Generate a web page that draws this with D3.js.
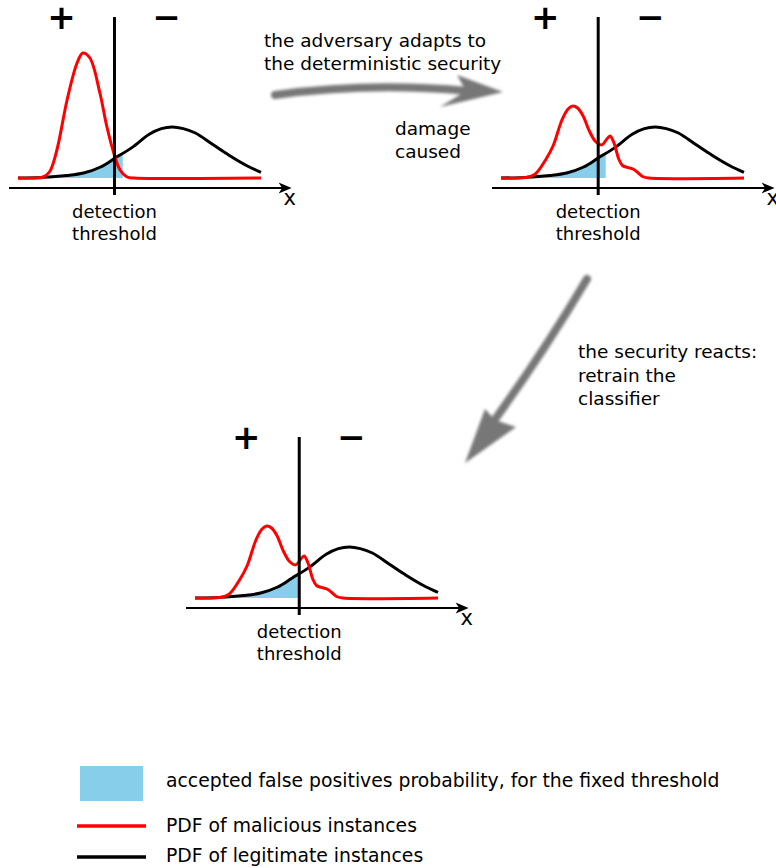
<!DOCTYPE html>
<html>
<head>
<meta charset="utf-8">
<script src="https://cdn.jsdelivr.net/npm/d3@7"></script>
<style>
  html, body { margin: 0; padding: 0; background: #fff; }
  text { font-family: "DejaVu Sans", sans-serif; fill: #000; }
</style>
</head>
<body>
<svg id="chart" width="776" height="868"></svg>
<script>
// data (x in feature units 0..100, y = density, red peak = 1)
var legitX = [0, 10, 20, 27, 34, 40, 47, 54, 59, 63.5, 68, 73, 80, 87, 94, 100];
var legitY = [0, 0.005, 0.02, 0.04, 0.088, 0.16, 0.245, 0.35, 0.395, 0.408, 0.395, 0.36, 0.27, 0.18, 0.1, 0.045];

var maliciousX = [0, 10.3, 13, 16, 20.2, 24.3, 26.7, 29.6, 33.7, 36.6, 39.9, 42, 44.9, 48, 100];
var maliciousY = [0, 0.008, 0.05, 0.224, 0.624, 0.92, 1, 0.96, 0.68, 0.408, 0.168, 0.064, 0.008, 0, 0];

var adaptedX = [0, 10, 14, 18.5, 21.5, 25, 27.5, 29.6, 31.5, 33.7, 36.5, 39, 41.5, 43.5, 44.9, 46.5, 48.5, 50, 52, 54.5, 56.5, 58.5, 61, 100];
var adaptedY = [0, 0.004, 0.03, 0.15, 0.26, 0.46, 0.55, 0.576, 0.56, 0.5, 0.37, 0.29, 0.265, 0.31, 0.336, 0.28, 0.15, 0.1, 0.085, 0.07, 0.04, 0.01, 0, 0];

var thresholds = [39.7, 40.0, 42.9];
var fpEdges = [43.1, 43.1, 42.4];

var annotations = [
  ["the adversary adapts to", "the deterministic security"],
  ["damage", "caused"],
  ["the security reacts:", "retrain the", "classifier"]
];
var legendLabels = [
  "accepted false positives probability, for the fixed threshold",
  "PDF of malicious instances",
  "PDF of legitimate instances"
];

var legit = legitX.map(function(x, i) { return {x: x, y: legitY[i]}; });
var malicious = maliciousX.map(function(x, i) { return {x: x, y: maliciousY[i]}; });
var adapted = adaptedX.map(function(x, i) { return {x: x, y: adaptedY[i]}; });

// panel layout
var panels = [
  {x0: 18,  base: 178, red: malicious},
  {x0: 501, base: 178, red: adapted},
  {x0: 195, base: 598, red: adapted}
];

var red = "#ff0000", blue = "#87ceeb";
var svg = d3.select("#chart");

var defs = svg.append("defs");
defs.append("filter").attr("id", "blur")
  .attr("x", "-20%").attr("y", "-20%").attr("width", "140%").attr("height", "140%")
  .append("feGaussianBlur").attr("stdDeviation", 1.6);

panels.forEach(function(p, i) {
  var x = d3.scaleLinear().domain([0, 100]).range([p.x0, p.x0 + 243]);
  var y = d3.scaleLinear().domain([0, 1]).range([p.base, p.base - 125]);
  var g = svg.append("g").attr("class", "panel");

  var line = d3.line().x(function(d) { return x(d.x); }).y(function(d) { return y(d.y); })
    .curve(d3.curveCatmullRom.alpha(0.5));
  var area = d3.area().x(function(d) { return x(d.x); }).y0(y(0)).y1(function(d) { return y(d.y); })
    .curve(d3.curveCatmullRom.alpha(0.5));

  // false positive area under the legitimate curve, left of the edge
  defs.append("clipPath").attr("id", "fp" + i)
    .append("rect")
    .attr("x", x(0)).attr("y", y(1.3))
    .attr("width", x(fpEdges[i]) - x(0)).attr("height", y(0) - y(1.3));
  g.append("path").datum(legit).attr("d", area)
    .attr("fill", blue).attr("clip-path", "url(#fp" + i + ")");

  // x axis with arrow head
  var ay = p.base + 10;
  g.append("line").attr("x1", x(-3.7)).attr("x2", x(111)).attr("y1", ay).attr("y2", ay)
    .attr("stroke", "#000").attr("stroke-width", 2);
  var tip = x(112.6);
  g.append("path")
    .attr("d", "M" + tip + "," + ay + "L" + (tip - 13) + "," + (ay - 5.5) + "L" + (tip - 9.5) + "," + ay + "L" + (tip - 13) + "," + (ay + 5.5) + "Z")
    .attr("fill", "#000");
  g.append("text").attr("x", tip - 2).attr("y", p.base + 27)
    .attr("text-anchor", "middle").style("font-size", "21px").text("x");

  // legitimate and malicious PDFs
  g.append("path").datum(legit).attr("d", line)
    .attr("fill", "none").attr("stroke", "#000").attr("stroke-width", 3);
  g.append("path").datum(p.red).attr("d", line)
    .attr("fill", "none").attr("stroke", red).attr("stroke-width", 3);

  // detection threshold
  var tx = x(thresholds[i]);
  g.append("line").attr("x1", tx).attr("x2", tx).attr("y1", p.base - 161).attr("y2", p.base + 17)
    .attr("stroke", "#000").attr("stroke-width", 3);
  g.append("text").attr("x", tx).attr("y", p.base + 40).attr("text-anchor", "middle")
    .style("font-size", "18px").text("detection");
  g.append("text").attr("x", tx).attr("y", p.base + 62).attr("text-anchor", "middle")
    .style("font-size", "18px").text("threshold");

  // + and − signs above the curves
  [["+", -53], ["\u2212", 52]].forEach(function(s) {
    g.append("text").attr("x", tx + s[1]).attr("y", p.base - 161 + 12)
      .attr("text-anchor", "middle").style("font-size", "34px").style("font-weight", "bold").text(s[0]);
  });
});

// blurred grey arrows
var arrows = svg.append("g").attr("filter", "url(#blur)");
arrows.append("path").attr("d", "M275,95 Q370,82 468,91")
  .attr("fill", "none").attr("stroke", "#777").attr("stroke-width", 8).attr("stroke-linecap", "round");
arrows.append("path").attr("d", "M503,92 L457,75 L466,91 L440,107 Z").attr("fill", "#777");

arrows.append("path").attr("d", "M587,279 Q545,350 496,418")
  .attr("fill", "none").attr("stroke", "#777").attr("stroke-width", 8).attr("stroke-linecap", "round");
arrows.append("path").attr("d", "M465,463 L485,409 L495,420 L516,427 Z").attr("fill", "#777");

// annotations
function lines(parent, arr, x, y0, dy) {
  arr.forEach(function(s, k) {
    parent.append("text").attr("x", x).attr("y", y0 + k * dy).style("font-size", "18.5px").text(s);
  });
}
lines(svg, annotations[0], 264, 47, 23);
lines(svg, annotations[1], 395, 135, 23);
lines(svg, annotations[2], 578, 358, 23.5);

// legend
var lg = svg.append("g").attr("class", "legend");
lg.append("rect").attr("x", 80).attr("y", 766).attr("width", 63).attr("height", 35).attr("fill", blue);
lg.append("line").attr("x1", 77).attr("x2", 146).attr("y1", 826).attr("y2", 826).attr("stroke", red).attr("stroke-width", 3.5);
lg.append("line").attr("x1", 77).attr("x2", 146).attr("y1", 857).attr("y2", 857).attr("stroke", "#000").attr("stroke-width", 3.5);
legendLabels.forEach(function(s, k) {
  lg.append("text").attr("x", 166).attr("y", [787, 832, 862][k]).style("font-size", "18.8px").text(s);
});
</script>
</body>
</html>
